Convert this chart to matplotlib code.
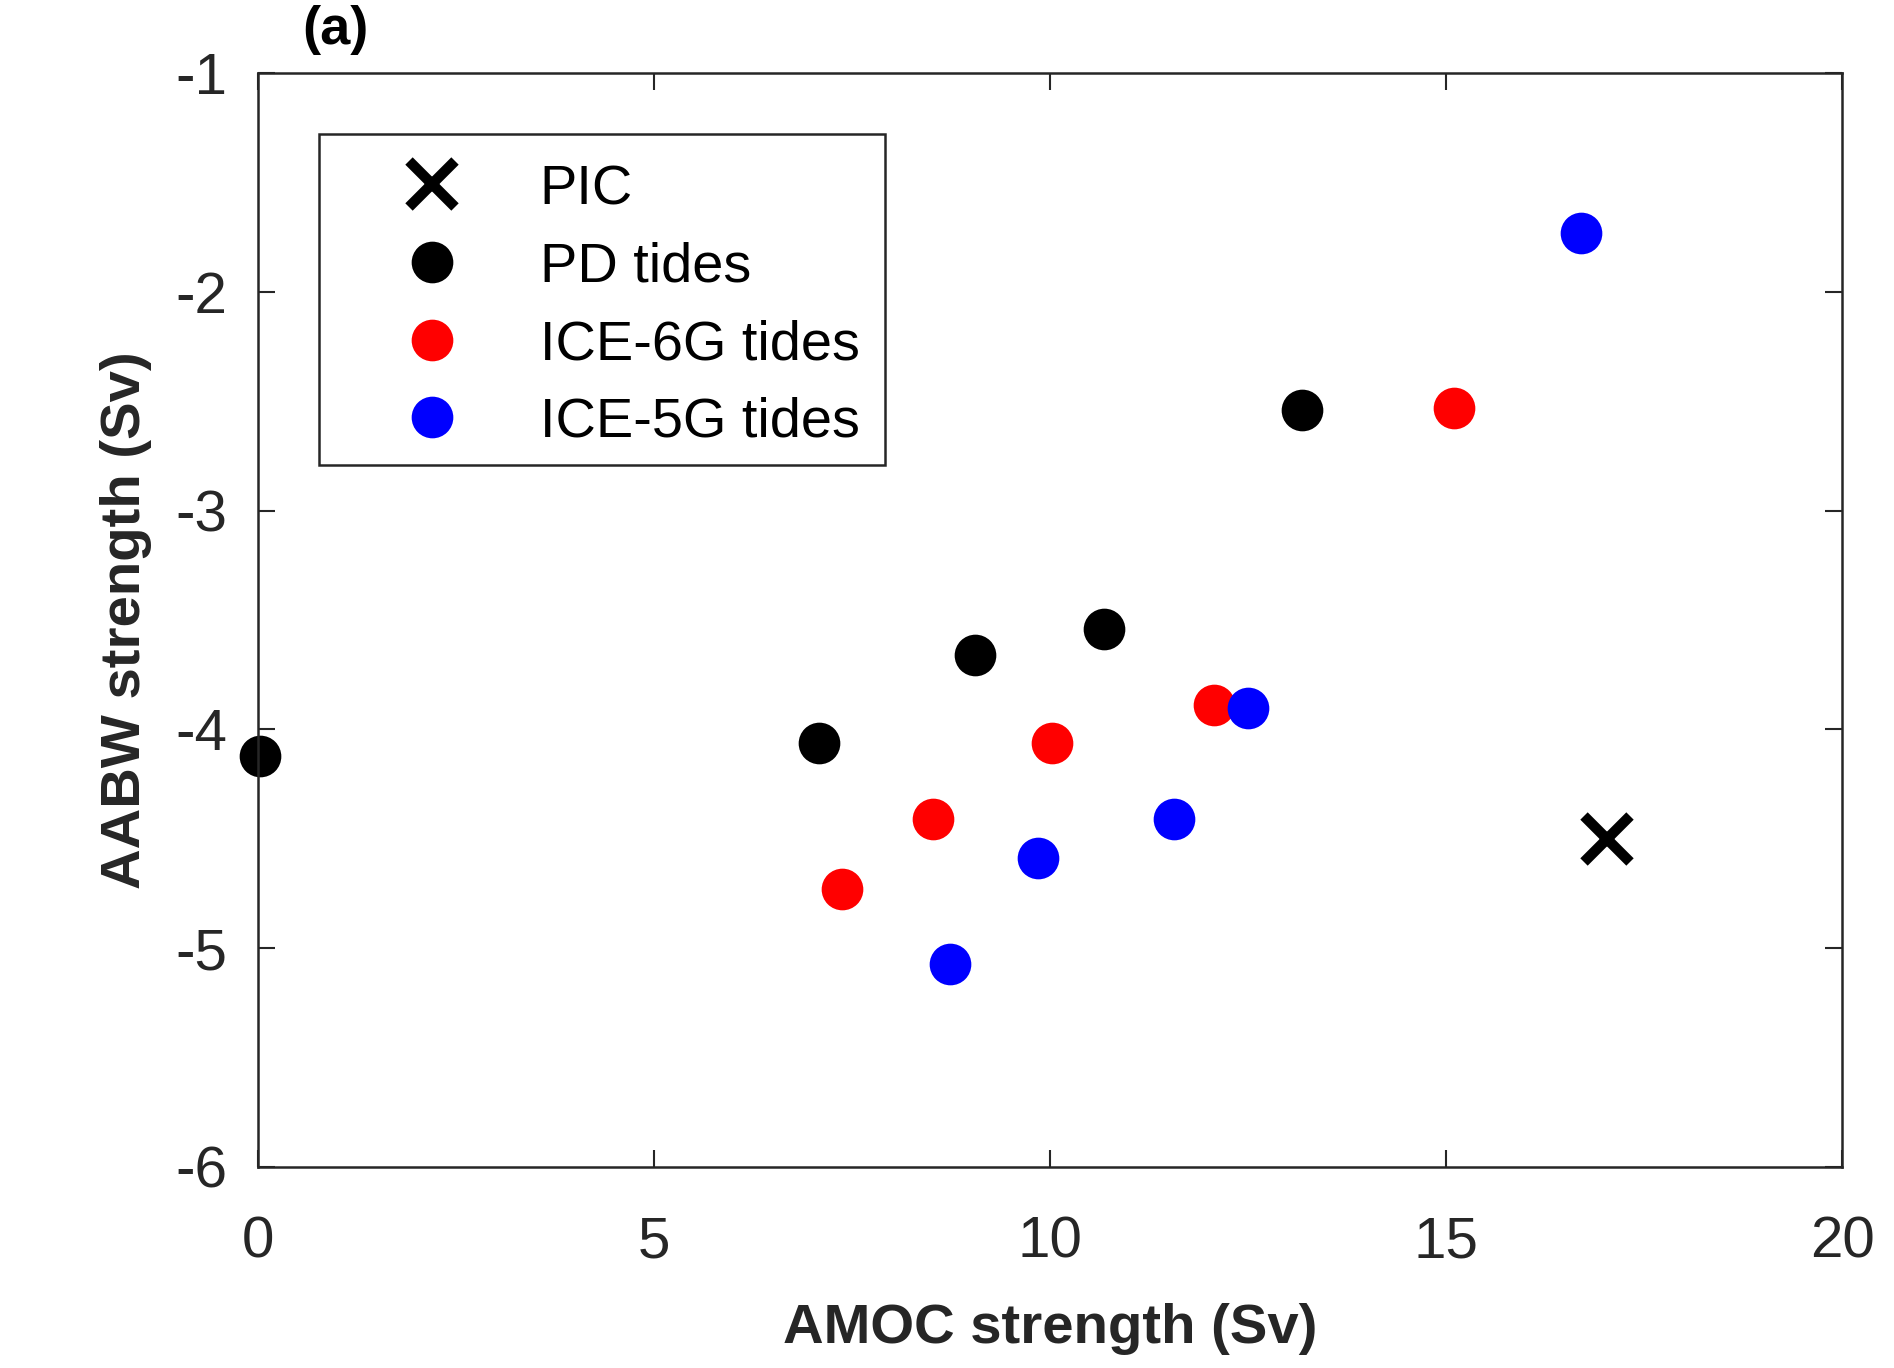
import matplotlib.pyplot as plt
from matplotlib.patches import Rectangle

plt.rcParams['font.family'] = ['Liberation Sans', 'DejaVu Sans']

# AMOC / AABW strength (Sv)
pic_amoc = [17.03]
pic_aabw = [-4.50]

pd_amoc = [0.03, 7.08, 9.05, 10.68, 13.18]
pd_aabw = [-4.12, -4.06, -3.66, -3.54, -2.54]

ice6g_amoc = [7.37, 8.52, 10.03, 12.07, 15.10]
ice6g_aabw = [-4.73, -4.41, -4.06, -3.89, -2.53]

ice5g_amoc = [8.74, 9.85, 11.56, 12.50, 16.71]
ice5g_aabw = [-5.07, -4.59, -4.41, -3.90, -1.73]

xticks = [0, 5, 10, 15, 20]
yticks = [-6, -5, -4, -3, -2, -1]

fig = plt.figure(figsize=(18.94, 13.68), dpi=100)
ax = fig.add_axes([258/1894, 1-1167/1368, 1584/1894, 1094/1368])

ax.plot(pic_amoc, pic_aabw, 'x', color='black', ms=33, mew=7.5, label='PIC', clip_on=False)
ax.plot(pd_amoc, pd_aabw, 'o', color='black', ms=30, mec='none', label='PD tides', clip_on=False)
ax.plot(ice6g_amoc, ice6g_aabw, 'o', color='red', ms=30, mec='none', label='ICE-6G tides', clip_on=False)
ax.plot(ice5g_amoc, ice5g_aabw, 'o', color='blue', ms=30, mec='none', label='ICE-5G tides', clip_on=False)

ax.set_xlim(0, 20)
ax.set_ylim(-6, -1)
ax.set_xticks(xticks)
ax.set_yticks(yticks)
ax.set_xticklabels([str(t) for t in xticks])
ax.set_yticklabels([str(t) for t in yticks])

for s in ax.spines.values():
    s.set_linewidth(1.8)
    s.set_color('#262626')
ax.tick_params(direction='in', length=12, width=1.5, color='#262626',
               top=True, right=True, labelsize=42, labelcolor='#262626')
ax.tick_params(axis='x', pad=35)
ax.tick_params(axis='y', pad=22)

ax.set_xlabel('AMOC strength (Sv)', fontsize=40.5, fontweight='bold', color='#262626', labelpad=24)
ax.set_ylabel('AABW strength (Sv)', fontsize=40.5, fontweight='bold', color='#262626', labelpad=17)

fig.text(335/1894, 1-30/1368, '(a)', fontsize=39, fontweight='bold', ha='center', va='center')

# legend box drawn separately, entries placed inside it
ax.add_patch(Rectangle((0.0385, 0.6417), 0.3573, 0.3025, transform=ax.transAxes,
                       fill=False, edgecolor='#262626', linewidth=1.8, zorder=5))
leg = ax.legend(loc='upper left', bbox_to_anchor=(0.0385, 0.9372), borderaxespad=0,
                fontsize=40.2, frameon=False, borderpad=0.4,
                handlelength=3.25, handletextpad=0.3, labelspacing=0.458, numpoints=1)

fig.savefig('out.png', dpi=100)
